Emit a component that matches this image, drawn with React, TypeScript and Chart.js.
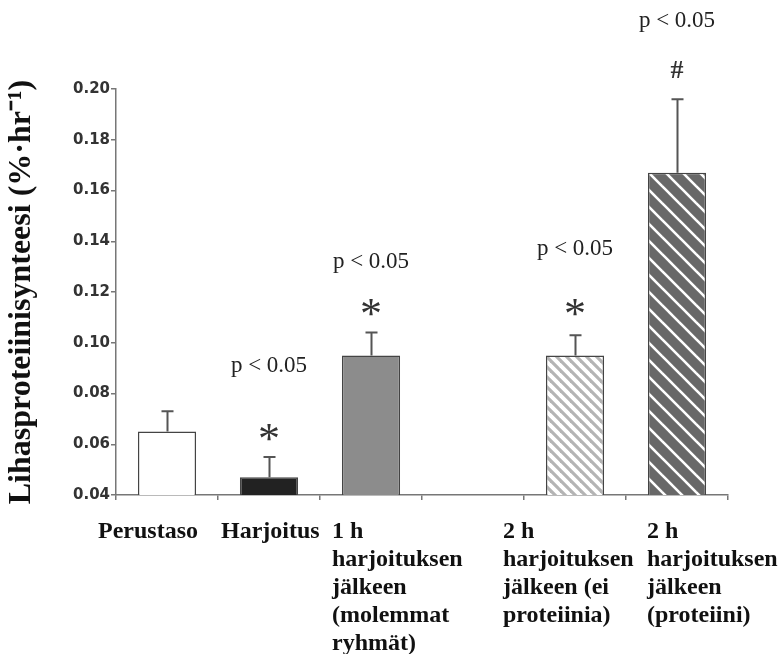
import React, { useEffect, useRef } from "react";
import { Chart, registerables } from "chart.js";

Chart.register(...registerables);

// ---- data ----
const categories: string[][] = [
  ["Perustaso"],
  ["Harjoitus"],
  ["1 h", "harjoituksen", "jälkeen", "(molemmat", "ryhmät)"],
  [""],
  ["2 h", "harjoituksen", "jälkeen (ei", "proteiinia)"],
  ["2 h", "harjoituksen", "jälkeen", "(proteiini)"],
];
const means: (number | null)[] = [0.065, 0.047, 0.095, null, 0.095, 0.167];
const errorTops: (number | null)[] = [0.073, 0.055, 0.104, null, 0.103, 0.196];
const pLabels: (string | null)[] = [null, "p < 0.05", "p < 0.05", null, "p < 0.05", "p < 0.05"];
const pLabelLevels: (number | null)[] = [null, 0.0904, 0.1314, null, 0.1366, 0.2264];
const markers: (string | null)[] = [null, "*", "*", null, "*", "#"];
const markerLevels: (number | null)[] = [null, 0.0648, 0.1137, null, 0.1137, 0.2075];
const yTicks = [0.04, 0.06, 0.08, 0.1, 0.12, 0.14, 0.16, 0.18, 0.2];
const yTitle = "Lihasproteiinisynteesi (%·hr⁻¹)";

// ---- styles ----
const X_LABEL_SHIFT = [-69, -48, -39, 0, -72, -30];
const SERIF = '"Liberation Serif", "Times New Roman", serif';

function makeHatch(bg: string, fg: string, period: number, lw: number) {
  const c = document.createElement("canvas");
  c.width = period;
  c.height = period;
  const g = c.getContext("2d")!;
  g.fillStyle = bg;
  g.fillRect(0, 0, period, period);
  g.strokeStyle = fg;
  g.lineWidth = lw;
  g.lineCap = "square";
  for (let k = -1; k <= 1; k++) {
    g.beginPath();
    g.moveTo(-period, -period + k * period);
    g.lineTo(2 * period, 2 * period + k * period);
    g.stroke();
  }
  return g.createPattern(c, "repeat")!;
}

function drawCentered(ctx: CanvasRenderingContext2D, text: string, x: number, y: number) {
  const m = ctx.measureText(text);
  const asc = m.actualBoundingBoxAscent;
  const desc = m.actualBoundingBoxDescent;
  ctx.fillText(text, x, y + (asc - desc) / 2);
}

export default function App() {
  const ref = useRef<HTMLCanvasElement>(null);

  useEffect(() => {
    document.body.style.margin = "0";
    const canvas = ref.current!;
    const lightHatch = makeHatch("#ffffff", "#b4b4b4", 10, 3.2);
    const darkHatch = makeHatch("#686868", "#ffffff", 17, 2.6);

    const fills = ["#ffffff", "#222222", "#8c8c8c", "#ffffff", lightHatch, darkHatch];

    const overlay = {
      id: "overlay",
      afterDatasetsDraw(chart: any) {
        const ctx: CanvasRenderingContext2D = chart.ctx;
        const y = chart.scales.y;
        const x = chart.scales.x;
        const meta = chart.getDatasetMeta(0);
        ctx.save();
        // error bars (upper only)
        ctx.strokeStyle = "#555555";
        ctx.lineWidth = 2;
        means.forEach((v, i) => {
          const e = errorTops[i];
          if (v == null || e == null) return;
          const bar = meta.data[i];
          const bx = Math.round(bar.x) + 0.5;
          const y0 = y.getPixelForValue(v);
          const y1 = y.getPixelForValue(e);
          ctx.beginPath();
          ctx.moveTo(bx, y0);
          ctx.lineTo(bx, y1);
          ctx.moveTo(bx - 6, y1);
          ctx.lineTo(bx + 6, y1);
          ctx.stroke();
        });
        // annotations
        ctx.textAlign = "center";
        ctx.textBaseline = "alphabetic";
        means.forEach((_, i) => {
          const cx = x.getPixelForValue(i);
          const p = pLabels[i];
          const pl = pLabelLevels[i];
          if (p && pl != null) {
            ctx.fillStyle = "#222222";
            ctx.font = `23px ${SERIF}`;
            drawCentered(ctx, p, cx, y.getPixelForValue(pl));
          }
          const mk = markers[i];
          const ml = markerLevels[i];
          if (mk && ml != null) {
            ctx.fillStyle = "#333333";
            ctx.font = mk === "*" ? `44px ${SERIF}` : `bold 26px ${SERIF}`;
            drawCentered(ctx, mk, cx, y.getPixelForValue(ml));
          }
        });
        // x category labels
        ctx.fillStyle = "#111111";
        ctx.font = `bold 24px ${SERIF}`;
        ctx.textAlign = "left";
        ctx.textBaseline = "middle";
        const top = chart.chartArea.bottom + 37;
        categories.forEach((lines, i) => {
          const lx = x.getPixelForValue(i) + X_LABEL_SHIFT[i];
          lines.forEach((ln, j) => {
            ctx.fillText(ln, lx, top + j * 28);
          });
        });
        ctx.restore();
      },
    };

    const chart = new Chart(canvas, {
      type: "bar",
      data: {
        labels: categories.map((c) => c.join(" ")),
        datasets: [
          {
            data: means as any,
            backgroundColor: fills as any,
            borderColor: "#444444",
            borderWidth: 1.5,
            categoryPercentage: 1,
            barPercentage: 0.57,
          },
        ],
      },
      options: {
        animation: false,
        responsive: false,
        devicePixelRatio: 1,
        layout: { padding: { top: 89, right: 50, left: 0, bottom: 0 } },
        plugins: {
          legend: { display: false },
          tooltip: { enabled: false },
        },
        scales: {
          x: {
            offset: true,
            grid: {
              offset: true,
              drawOnChartArea: false,
              drawTicks: true,
              tickLength: 5,
              color: "#777777",
              lineWidth: 1.5,
            },
            border: { color: "#777777", width: 1.5 },
            ticks: { display: false },
            afterFit: (s: any) => {
              s.height = 159;
            },
          },
          y: {
            min: 0.04,
            max: 0.2,
            afterBuildTicks: (axis: any) => {
              axis.ticks = yTicks.map((v) => ({ value: v }));
            },
            ticks: {
              callback: (v: any) => Number(v).toFixed(2),
              font: { family: '"DejaVu Sans"', weight: "bold", size: 15 },
              color: "#333333",
              padding: 1,
            },
            grid: {
              drawOnChartArea: false,
              drawTicks: true,
              tickLength: 5,
              color: "#777777",
              lineWidth: 1.5,
            },
            border: { color: "#777777", width: 1.5 },
            title: {
              display: true,
              text: yTitle,
              font: { family: SERIF, weight: "bold", size: 32 },
              color: "#111111",
              padding: { top: 3, bottom: 0 },
            },
            afterFit: (s: any) => {
              s.width = 116;
            },
          },
        },
      },
      plugins: [overlay],
    });
    return () => chart.destroy();
  }, []);

  return (
    <div style={{ position: "absolute", left: 0, top: 0, width: 778, height: 654 }}>
      <canvas ref={ref} width={778} height={654} style={{ width: 778, height: 654 }} />
    </div>
  );
}
